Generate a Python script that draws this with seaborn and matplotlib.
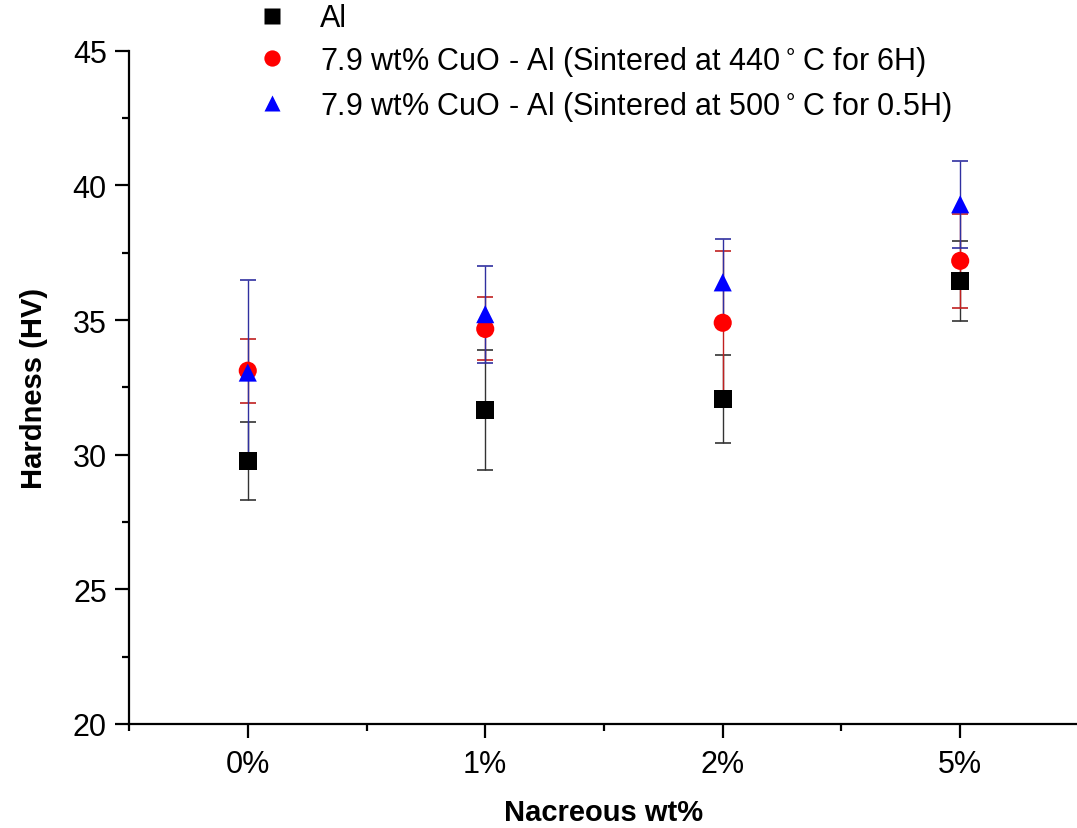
import pandas as pd
import numpy as np
import seaborn as sns
import matplotlib.pyplot as plt
from matplotlib.ticker import MultipleLocator

sns.set_style('ticks')
plt.rcParams['font.family'] = ['Liberation Sans', 'DejaVu Sans']
plt.rcParams['text.color'] = 'black'
plt.rcParams['axes.labelcolor'] = 'black'
plt.rcParams['xtick.color'] = 'black'
plt.rcParams['ytick.color'] = 'black'
plt.rcParams['axes.edgecolor'] = 'black'

# data
categories = ['0%', '1%', '2%', '5%']
al_mean = [29.75, 31.65, 32.07, 36.45]
al_err = [1.45, 2.23, 1.62, 1.5]
cuo440_mean = [33.12, 34.67, 34.9, 37.2]
cuo440_err = [1.19, 1.17, 2.67, 1.75]
cuo500_mean = [33.05, 35.22, 36.4, 39.3]
cuo500_err = [3.45, 1.8, 1.62, 1.62]

names = ['Al',
         '7.9 wt% CuO - Al (Sintered at 440$^\\circ$C for 6H)',
         '7.9 wt% CuO - Al (Sintered at 500$^\\circ$C for 0.5H)']
means = [al_mean, cuo440_mean, cuo500_mean]
errs = [al_err, cuo440_err, cuo500_err]
colors = ['#000000', '#ff0000', '#0000ff']
err_colors = ['#333333', '#c02020', '#3030a0']
marker_map = {names[0]: 's', names[1]: 'o', names[2]: '^'}

x = np.arange(len(categories))
df = pd.DataFrame({
    'pos': np.tile(x, 3),
    'hardness': np.concatenate(means),
    'sample': np.repeat(names, len(categories)),
})

fig = plt.figure(figsize=(10.77, 8.29), dpi=100)
ax = fig.add_axes([0.1198, 0.1255, 0.882, 0.812])

# error bars first
for m, e, c in zip(means, errs, err_colors):
    ax.errorbar(x, m, yerr=e, fmt='none', ecolor=c, elinewidth=1.0,
                capsize=6, capthick=1.2, zorder=1)

sns.scatterplot(data=df, x='pos', y='hardness', hue='sample', style='sample',
                palette=dict(zip(names, colors)), markers=marker_map,
                s=170, edgecolor='none', zorder=3, ax=ax)

ax.set_xlim(-0.5, 3.5)
ax.set_ylim(20, 45)
ax.set_xticks(x)
ax.set_xticklabels(categories)
ax.xaxis.set_minor_locator(MultipleLocator(1, offset=0.5))
ax.yaxis.set_major_locator(MultipleLocator(5))
ax.yaxis.set_minor_locator(MultipleLocator(2.5))
ax.tick_params(which='major', length=10, width=1.6, labelsize=22, pad=8)
ax.tick_params(axis='y', which='major', pad=6)
ax.tick_params(which='minor', length=5, width=1.6)
for s in ['left', 'bottom']:
    ax.spines[s].set_linewidth(1.6)
sns.despine(ax=ax)

ax.set_xlabel('Nacreous wt%', fontsize=21, fontweight='bold', labelpad=14)
ax.set_ylabel('Hardness (HV)', fontsize=21, fontweight='bold', labelpad=18)

handles, labels = ax.get_legend_handles_labels()
ax.legend(handles, labels, loc='upper left', bbox_to_anchor=(0.199, 1.028),
          bbox_transform=fig.transFigure, frameon=False, fontsize=22,
          handletextpad=0.55, labelspacing=0.35, markerscale=0.9)

plt.savefig('out.png')
